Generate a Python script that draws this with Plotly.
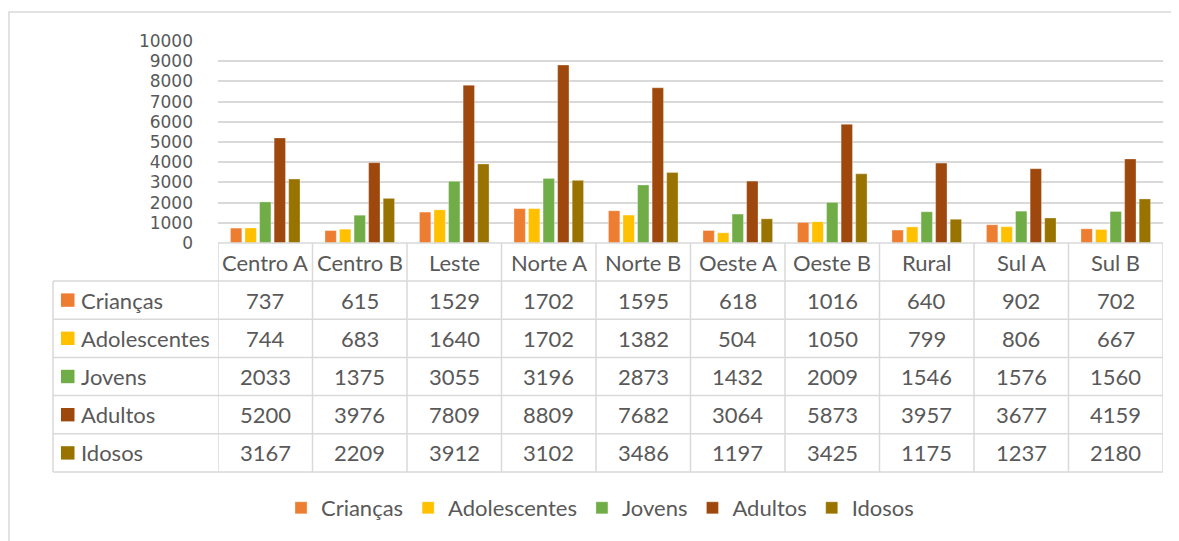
import plotly.graph_objects as go

categories = ["Centro A", "Centro B", "Leste", "Norte A", "Norte B",
              "Oeste A", "Oeste B", "Rural", "Sul A", "Sul B"]
series_names = ["Crianças", "Adolescentes", "Jovens", "Adultos", "Idosos"]
criancas = [737, 615, 1529, 1702, 1595, 618, 1016, 640, 902, 702]
adolescentes = [744, 683, 1640, 1702, 1382, 504, 1050, 799, 806, 667]
jovens = [2033, 1375, 3055, 3196, 2873, 1432, 2009, 1546, 1576, 1560]
adultos = [5200, 3976, 7809, 8809, 7682, 3064, 5873, 3957, 3677, 4159]
idosos = [3167, 2209, 3912, 3102, 3486, 1197, 3425, 1175, 1237, 2180]
y_ticks = [0, 1000, 2000, 3000, 4000, 5000, 6000, 7000, 8000, 9000, 10000]

series_values = [criancas, adolescentes, jovens, adultos, idosos]
colors = ["#ED7D31", "#FFC000", "#70AD47", "#9E480E", "#997300"]

# the page body has an 8px margin; the figure is sized to fill the rest
OFF = 8
W, H = 1179 - OFF, 541 - OFF
L, R, T, B = 218, 1163, 41, 243   # plot area in window pixels
FONT = "Lato, 'Open Sans', sans-serif"
TICKFONT = "'DejaVu Sans', Lato, sans-serif"
TXT = "#595959"
GRID = "#D9D9D9"
FS = 22

def px_x(px):
    return (px - L) / (R - L)

def px_y(py):
    return (B - py) / (B - T)

fig = go.Figure()
for name, vals, col in zip(series_names, series_values, colors):
    fig.add_trace(go.Bar(
        x=categories, y=vals, name=name,
        marker=dict(color=col, line=dict(color="rgba(255,255,255,0.5)", width=0.6)),
    ))

shapes = []
annotations = []

# Outer chart frame (extends beyond the window on right/bottom)
shapes.append(dict(type="rect", xref="paper", yref="paper",
                   x0=px_x(9), x1=px_x(1300), y0=px_y(700), y1=px_y(12),
                   line=dict(color=GRID, width=1.5), layer="below"))

row_h = 38.2
header_top = B
row_tops = [B + 38 + i * row_h for i in range(5)]
table_bottom = row_tops[-1] + row_h
n = len(categories)

# Vertical lines at category boundaries (data coordinates of categorical axis)
for i in range(n + 1):
    shapes.append(dict(type="line", xref="x", yref="paper",
                       x0=i - 0.5, x1=i - 0.5, y0=px_y(header_top), y1=px_y(table_bottom),
                       line=dict(color=GRID, width=1.5)))
# Left column border
shapes.append(dict(type="line", xref="paper", yref="paper",
                   x0=px_x(53), x1=px_x(53), y0=px_y(row_tops[0]), y1=px_y(table_bottom),
                   line=dict(color=GRID, width=1.5)))
# Horizontal lines
shapes.append(dict(type="line", xref="paper", yref="paper",
                   x0=0, x1=1, y0=px_y(header_top), y1=px_y(header_top),
                   line=dict(color=GRID, width=1.5)))
for yy in row_tops + [table_bottom]:
    shapes.append(dict(type="line", xref="paper", yref="paper",
                       x0=px_x(53), x1=1, y0=px_y(yy), y1=px_y(yy),
                       line=dict(color=GRID, width=1.5)))

# Header row: category names
for c in categories:
    annotations.append(dict(x=c, xref="x", y=px_y(header_top + 19), yref="paper",
                            text=c, showarrow=False, xanchor="center", yanchor="middle",
                            font=dict(family=FONT, size=FS, color=TXT)))

# Data rows
for r, (name, vals, col) in enumerate(zip(series_names, series_values, colors)):
    cy = row_tops[r] + row_h / 2
    shapes.append(dict(type="rect", xref="paper", yref="paper",
                       x0=px_x(61), x1=px_x(74.5), y0=px_y(cy + 6.7), y1=px_y(cy - 6.7),
                       fillcolor=col, line=dict(width=0)))
    annotations.append(dict(x=px_x(79), xref="paper", y=px_y(cy), yref="paper",
                            text=name, showarrow=False, xanchor="left", yanchor="middle",
                            font=dict(family=FONT, size=FS, color=TXT)))
    for c, v in zip(categories, vals):
        annotations.append(dict(x=c, xref="x", y=px_y(cy), yref="paper",
                                text=str(v), showarrow=False, xanchor="center", yanchor="middle",
                                font=dict(family=FONT, size=FS, color=TXT)))

fig.update_layout(
    width=W, height=H,
    margin=dict(l=L - OFF, r=W - (R - OFF), t=T - OFF, b=H - (B - OFF), pad=0),
    paper_bgcolor="white", plot_bgcolor="white",
    barmode="group", bargap=0.23, bargroupgap=0.22,
    font=dict(family=FONT, size=FS, color=TXT),
    xaxis=dict(showticklabels=False, showgrid=False, zeroline=False, showline=False,
               range=[-0.5, n - 0.5], fixedrange=True),
    yaxis=dict(range=[0, 10000], tickvals=y_ticks, ticktext=[str(t) for t in y_ticks],
               showgrid=True, gridcolor=GRID, gridwidth=1.5, zeroline=False,
               showline=False, ticks="", ticklabelstandoff=24,
               tickfont=dict(family=TICKFONT, size=17, color=TXT)),
    legend=dict(orientation="h", xref="container", yref="container",
                x=(600 - OFF) / W, xanchor="center", y=1 - (508 - OFF) / H, yanchor="middle",
                font=dict(family=FONT, size=FS, color=TXT), traceorder="normal"),
    shapes=shapes, annotations=annotations,
)

fig.write_html("out.html")
